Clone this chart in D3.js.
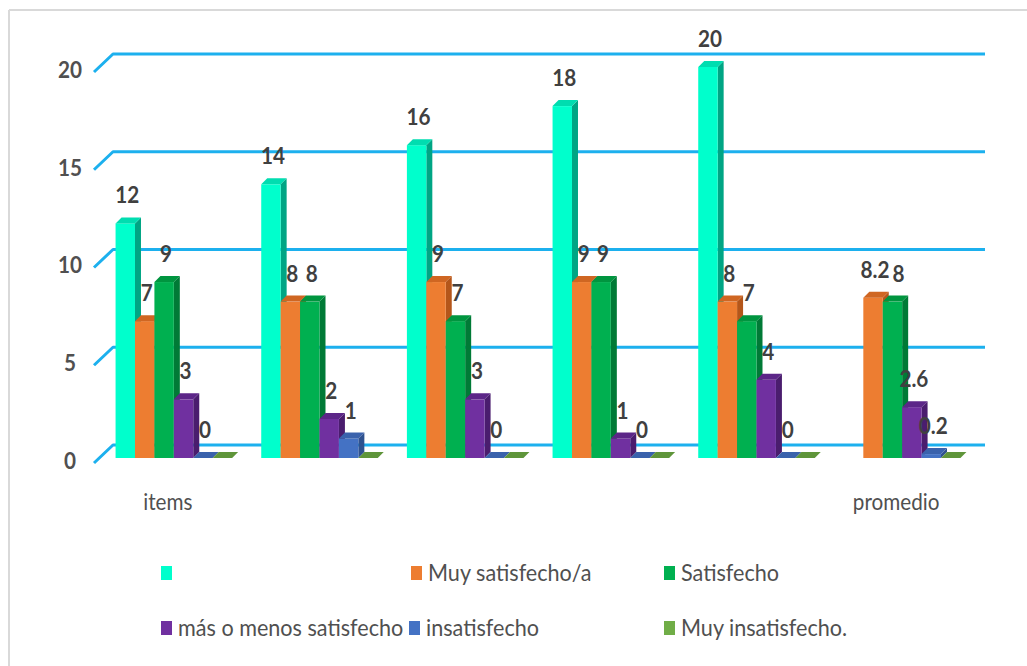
<!DOCTYPE html>
<html>
<head>
<meta charset="utf-8">
<script src="https://cdn.jsdelivr.net/npm/d3@7/dist/d3.min.js"></script>
<style>
  html, body { margin: 0; padding: 0; background: #ffffff; }
  svg { display: block; }
  text { font-family: Lato, "Open Sans", sans-serif; }
</style>
</head>
<body>
<svg id="chart" width="1027" height="666"></svg>
<script>
// ---- data ----
const groupLabels = ["items", "", "", "", "", "promedio"];
const seriesNames = ["", "Muy satisfecho/a", "Satisfecho", "más o menos satisfecho", "insatisfecho", "Muy insatisfecho."];
const serie0 = [12, 14, 16, 18, 20, null];
const serie1 = [7, 8, 9, 9, 8, 8.2];
const serie2 = [9, 8, 7, 9, 7, 8];
const serie3 = [3, 2, 3, 1, 4, 2.6];
const serie4 = [0, 1, 0, 0, 0, 0.2];
const serie5 = [0, 0, 0, 0, 0, 0];
const yTicks = [0, 5, 10, 15, 20];
const showLabel = [true, true, true, true, true, false];

const seriesValues = [serie0, serie1, serie2, serie3, serie4, serie5];
const colors = [
  { front: "#00FFCC", side: "#00A584", top: "#00DDB0" },
  { front: "#ED7D31", side: "#B4561A", top: "#CF6622" },
  { front: "#00B050", side: "#007A36", top: "#00953F" },
  { front: "#7030A0", side: "#4A1D6E", top: "#5C2688" },
  { front: "#4472C4", side: "#2F528F", top: "#3A62AC" },
  { front: "#70AD47", side: "#4E7E30", top: "#5F953A" }
];
const SX = 0.9; // horizontal compression of text (narrow font look)

const svg = d3.select("#chart");

function addText(parent, x, y, str, opts) {
  const t = parent.append("text")
    .attr("transform", `translate(${x},${y}) scale(${SX},1)`)
    .attr("dy", "0.35em")
    .attr("text-anchor", opts.anchor || "start")
    .style("font-size", opts.size + "px")
    .style("font-weight", opts.weight || "normal")
    .attr("fill", opts.fill || "#505050")
    .text(str);
  return t;
}

// border
svg.append("line").attr("x1", 9).attr("y1", 10).attr("x2", 1027).attr("y2", 10)
  .attr("stroke", "#D9D9D9").attr("stroke-width", 2);
svg.append("line").attr("x1", 9).attr("y1", 10).attr("x2", 9).attr("y2", 666)
  .attr("stroke", "#D9D9D9").attr("stroke-width", 2);

// scales
const y = d3.scaleLinear().domain([0, 20]).range([458, 67]);
const x0 = d3.scaleBand().domain(d3.range(groupLabels.length)).range([101, 975])
  .paddingInner(0.2).paddingOuter(0.1);
const x1 = d3.scaleBand().domain(d3.range(seriesNames.length)).range([0, x0.bandwidth()]);

const DX = 6, DY = -6;
const WX1 = 94, WX2 = 113, WX3 = 985;

// gridlines (3D wall)
const grid = svg.append("g");
yTicks.forEach(t => {
  const yf = y(t);
  grid.append("path")
    .attr("d", `M${WX1},${yf + 5}L${WX2},${yf - 13}L${WX3},${yf - 13}`)
    .attr("fill", "none").attr("stroke", "#1CB0EE").attr("stroke-width", 3)
    .attr("stroke-linejoin", "round");
});

// y axis labels
const yAxis = d3.axisLeft(y).tickValues(yTicks).tickSize(0).tickPadding(0).tickFormat(d3.format("d"));
const gy = svg.append("g").attr("transform", "translate(70,3)").call(yAxis);
gy.select(".domain").remove();
gy.selectAll("text")
  .attr("text-anchor", "middle")
  .attr("x", 0)
  .attr("transform", `scale(${SX},1)`)
  .style("font-family", "Lato, sans-serif")
  .style("font-size", "23px").style("font-weight", "bold")
  .attr("fill", "#505050");

// bars
const bars = svg.append("g");
seriesValues.forEach((vals, si) => {
  vals.forEach((v, gi) => {
    if (v === null) return;
    const xl = x0(gi) + x1(si);
    const w = x1.bandwidth();
    const yt = y(v), yb = y(0);
    const c = colors[si];
    const g = bars.append("g");
    g.append("path")
      .attr("d", `M${xl + w},${yb}L${xl + w + DX},${yb + DY}L${xl + w + DX},${yt + DY}L${xl + w},${yt}Z`)
      .attr("fill", c.side);
    if (yb - yt > 0) {
      g.append("rect").attr("x", xl).attr("y", yt).attr("width", w).attr("height", yb - yt)
        .attr("fill", c.front);
    }
    g.append("path")
      .attr("d", `M${xl},${yt}L${xl + DX},${yt + DY}L${xl + w + DX},${yt + DY}L${xl + w},${yt}Z`)
      .attr("fill", c.top);
  });
});

// data labels (with simple overlap avoidance inside a group)
const labels = svg.append("g");
groupLabels.forEach((_, gi) => {
  let prevRight = -Infinity, prevTop = 0, prevBottom = 0;
  seriesValues.forEach((vals, si) => {
    const v = vals[gi];
    if (!showLabel[si] || v === null) return;
    let cx = x0(gi) + x1(si) + x1.bandwidth() / 2 + 2;
    const cy = y(v) - 28;
    const t = addText(labels, cx, cy, String(v), { anchor: "middle", size: 23, weight: "bold", fill: "#404040" });
    const w = t.node().getComputedTextLength() * SX;
    const left = cx - w / 2;
    if (left < prevRight + 3 && cy + 10 > prevTop && cy - 10 < prevBottom) {
      cx += (prevRight + 3 - left);
      t.attr("transform", `translate(${cx},${cy}) scale(${SX},1)`);
    }
    prevRight = cx + w / 2; prevTop = cy - 10; prevBottom = cy + 10;
  });
});

// category labels
groupLabels.forEach((lab, gi) => {
  if (!lab) return;
  addText(svg, x0(gi) + x0.bandwidth() / 2 - 6, 502, lab, { anchor: "middle", size: 23 });
});

// legend
const legendPos = [
  [161, 573], [411, 573], [664, 573],
  [161, 628], [409, 628], [664, 628]
];
seriesNames.forEach((name, si) => {
  const [lx, ly] = legendPos[si];
  svg.append("rect").attr("x", lx).attr("y", ly - 7).attr("width", 11).attr("height", 14)
    .attr("fill", colors[si].front);
  addText(svg, lx + 17, ly, name, { size: 24 });
});
</script>
</body>
</html>
